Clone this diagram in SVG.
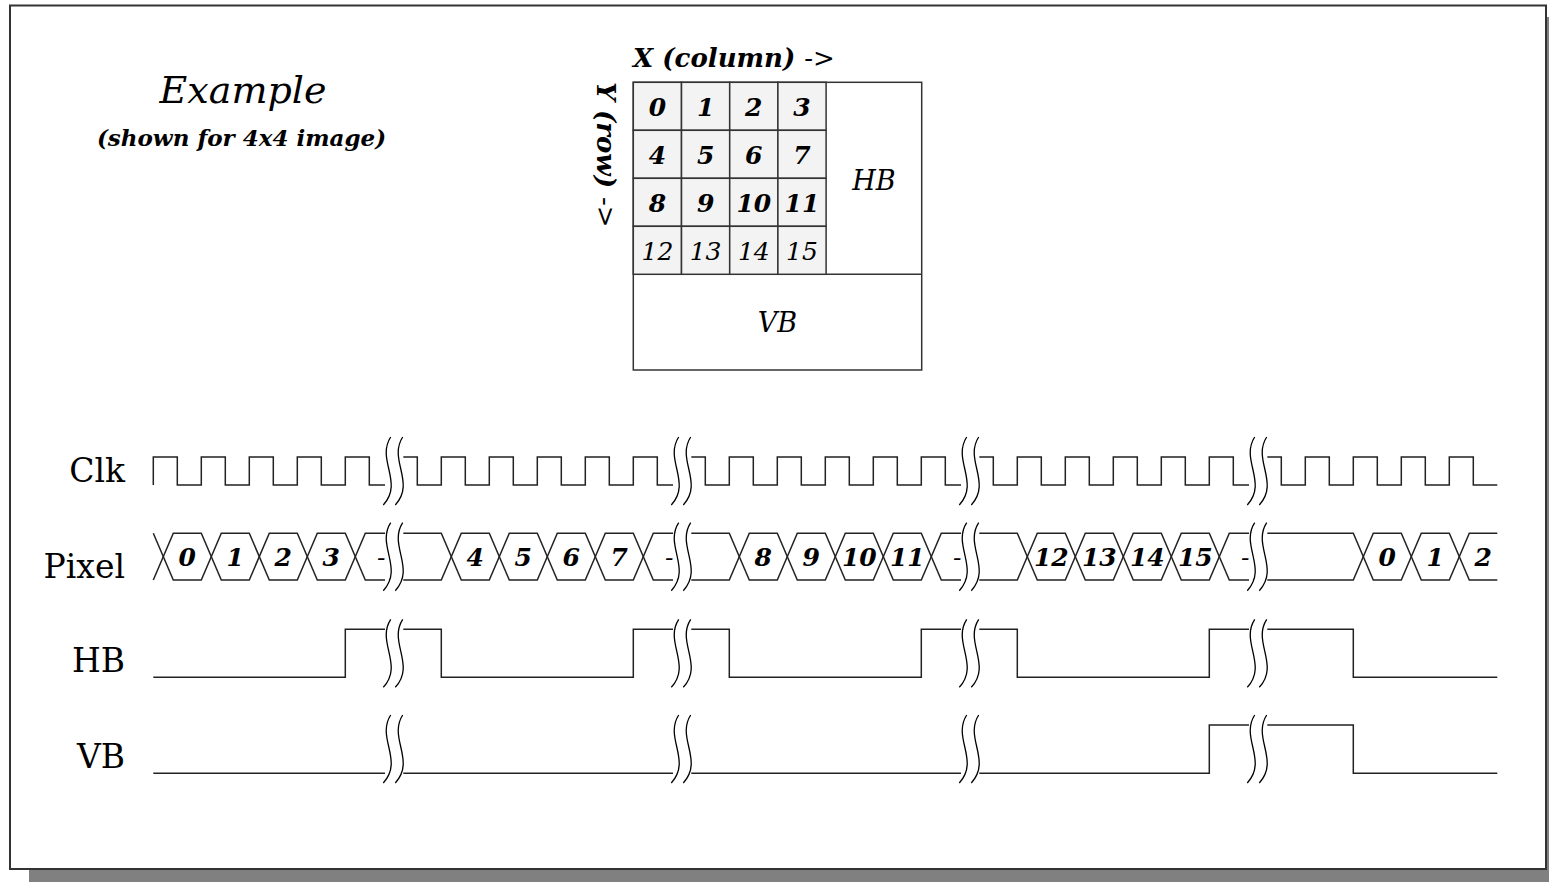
<svg xmlns="http://www.w3.org/2000/svg" width="1549" height="882" viewBox="0 0 1549 882">
<defs>
<style>
.frame{fill:#fff;stroke:#333;stroke-width:2}
.wave{fill:none;stroke:#222;stroke-width:1.5}
.brk{fill:none;stroke:#000;stroke-width:1.3}
.cell{fill:#f3f3f3;stroke:#333;stroke-width:1.5}
.box{fill:#fff;stroke:#333;stroke-width:1.5}
.lbl{font-family:"DejaVu Serif","Liberation Serif",serif;font-size:33px;fill:#000;text-anchor:end}
.num{font-family:"DejaVu Serif","Liberation Serif",serif;font-size:25px;font-style:italic;font-weight:bold;fill:#000;text-anchor:middle}
.numr{font-family:"DejaVu Serif","Liberation Serif",serif;font-size:25px;font-style:italic;fill:#000;text-anchor:middle}
.it{font-family:"DejaVu Serif","Liberation Serif",serif;font-style:italic;fill:#000;text-anchor:middle}
.bi{font-family:"DejaVu Serif","Liberation Serif",serif;font-style:italic;font-weight:bold;fill:#000;text-anchor:middle}
</style>
<path id="b" d="M-2.6,-34 C-17.3,-11.3 10.7,11.3 -10,34 M9.4,-34 C-5.3,-11.3 22.7,11.3 2,34"/>
</defs>
<rect x="29" y="17" width="1520" height="865" fill="#808080"/>
<rect class="frame" x="10" y="5.5" width="1536" height="863.5"/>

<g id="title">
<text class="it" x="243" y="103" font-size="38">Example</text>
<text class="bi" x="241.5" y="146" font-size="23">(shown for 4x4 image)</text>
</g>

<g id="grid">
<text class="bi" x="734" y="67" font-size="26">X (column) <tspan font-weight="normal">-&gt;</tspan></text>
<text class="bi" transform="translate(597,155) rotate(90)" x="0" y="0" font-size="26">Y (row) <tspan font-weight="normal">-&gt;</tspan></text>
<rect class="box" x="633.3" y="82.3" width="288.4" height="287.7"/>
<line class="box" x1="633.3" y1="274.3" x2="921.7" y2="274.3"/>
<g>
<rect class="cell" x="633.3" y="82.3" width="48.2" height="48"/>
<rect class="cell" x="681.5" y="82.3" width="48.2" height="48"/>
<rect class="cell" x="729.7" y="82.3" width="48.2" height="48"/>
<rect class="cell" x="777.9" y="82.3" width="48.2" height="48"/>
<rect class="cell" x="633.3" y="130.3" width="48.2" height="48"/>
<rect class="cell" x="681.5" y="130.3" width="48.2" height="48"/>
<rect class="cell" x="729.7" y="130.3" width="48.2" height="48"/>
<rect class="cell" x="777.9" y="130.3" width="48.2" height="48"/>
<rect class="cell" x="633.3" y="178.3" width="48.2" height="48"/>
<rect class="cell" x="681.5" y="178.3" width="48.2" height="48"/>
<rect class="cell" x="729.7" y="178.3" width="48.2" height="48"/>
<rect class="cell" x="777.9" y="178.3" width="48.2" height="48"/>
<rect class="cell" x="633.3" y="226.3" width="48.2" height="48"/>
<rect class="cell" x="681.5" y="226.3" width="48.2" height="48"/>
<rect class="cell" x="729.7" y="226.3" width="48.2" height="48"/>
<rect class="cell" x="777.9" y="226.3" width="48.2" height="48"/>
</g>
<text class="num" x="657.4" y="116">0</text>
<text class="num" x="705.6" y="116">1</text>
<text class="num" x="753.8" y="116">2</text>
<text class="num" x="802" y="116">3</text>
<text class="num" x="657.4" y="164">4</text>
<text class="num" x="705.6" y="164">5</text>
<text class="num" x="753.8" y="164">6</text>
<text class="num" x="802" y="164">7</text>
<text class="num" x="657.4" y="212">8</text>
<text class="num" x="705.6" y="212">9</text>
<text class="num" x="753.8" y="212">10</text>
<text class="num" x="802" y="212">11</text>
<text class="numr" x="657.4" y="260">12</text>
<text class="numr" x="705.6" y="260">13</text>
<text class="numr" x="753.8" y="260">14</text>
<text class="numr" x="802" y="260">15</text>
<text class="it" x="874" y="190" font-size="27">HB</text>
<text class="it" x="777.5" y="332" font-size="27">VB</text>
</g>

<g id="labels">
<text class="lbl" x="125" y="482">Clk</text>
<text class="lbl" x="125" y="578">Pixel</text>
<text class="lbl" x="125" y="672">HB</text>
<text class="lbl" x="125" y="768">VB</text>
</g>

<g id="connectors">
<g id="clk">
<path class="wave" d="M153.3,485 V457 H177.3 V485 H201.3 V457 H225.3 V485 H249.3 V457 H273.3 V485 H297.3 V457 H321.3 V485 H345.3 V457 H369.3 V485 H385"/>
<path class="wave" d="M403.3,457 H417.3 V485 H441.3 V457 H465.3 V485 H489.3 V457 H513.3 V485 H537.3 V457 H561.3 V485 H585.3 V457 H609.3 V485 H633.3 V457 H657.3 V485 H673"/>
<path class="wave" d="M691.3,457 H705.3 V485 H729.3 V457 H753.3 V485 H777.3 V457 H801.3 V485 H825.3 V457 H849.3 V485 H873.3 V457 H897.3 V485 H921.3 V457 H945.3 V485 H961"/>
<path class="wave" d="M979.3,457 H993.3 V485 H1017.3 V457 H1041.3 V485 H1065.3 V457 H1089.3 V485 H1113.3 V457 H1137.3 V485 H1161.3 V457 H1185.3 V485 H1209.3 V457 H1233.3 V485 H1249"/>
<path class="wave" d="M1267.3,457 H1281.3 V485 H1305.3 V457 H1329.3 V485 H1353.3 V457 H1377.3 V485 H1401.3 V457 H1425.3 V485 H1449.3 V457 H1473.3 V485 H1497.3"/>
</g>
<g id="pixel">
<path class="wave" d="M153.3,533.3 L173.3,580 H201.3 L221.3,533.3 H249.3 L269.3,580 H297.3 L317.3,533.3 H345.3 L365.3,580 H385"/>
<path class="wave" d="M153.3,580 L173.3,533.3 H201.3 L221.3,580 H249.3 L269.3,533.3 H297.3 L317.3,580 H345.3 L365.3,533.3 H385"/>
<path class="wave" d="M403.3,533.3 H441.3 L461.3,580 H489.3 L509.3,533.3 H537.3 L557.3,580 H585.3 L605.3,533.3 H633.3 L653.3,580 H673"/>
<path class="wave" d="M403.3,580 H441.3 L461.3,533.3 H489.3 L509.3,580 H537.3 L557.3,533.3 H585.3 L605.3,580 H633.3 L653.3,533.3 H673"/>
<path class="wave" d="M691.3,533.3 H729.3 L749.3,580 H777.3 L797.3,533.3 H825.3 L845.3,580 H873.3 L893.3,533.3 H921.3 L941.3,580 H961"/>
<path class="wave" d="M691.3,580 H729.3 L749.3,533.3 H777.3 L797.3,580 H825.3 L845.3,533.3 H873.3 L893.3,580 H921.3 L941.3,533.3 H961"/>
<path class="wave" d="M979.3,533.3 H1017.3 L1037.3,580 H1065.3 L1085.3,533.3 H1113.3 L1133.3,580 H1161.3 L1181.3,533.3 H1209.3 L1229.3,580 H1249"/>
<path class="wave" d="M979.3,580 H1017.3 L1037.3,533.3 H1065.3 L1085.3,580 H1113.3 L1133.3,533.3 H1161.3 L1181.3,580 H1209.3 L1229.3,533.3 H1249"/>
<path class="wave" d="M1267.3,533.3 H1353.3 L1373.3,580 H1401.3 L1421.3,533.3 H1449.3 L1469.3,580 H1497.3"/>
<path class="wave" d="M1267.3,580 H1353.3 L1373.3,533.3 H1401.3 L1421.3,580 H1449.3 L1469.3,533.3 H1497.3"/>
<text class="num" x="187.3" y="566">0</text>
<text class="num" x="235.3" y="566">1</text>
<text class="num" x="283.3" y="566">2</text>
<text class="num" x="331.3" y="566">3</text>
<text class="numr" x="381.3" y="566">-</text>
<text class="num" x="475.3" y="566">4</text>
<text class="num" x="523.3" y="566">5</text>
<text class="num" x="571.3" y="566">6</text>
<text class="num" x="619.3" y="566">7</text>
<text class="numr" x="669.3" y="566">-</text>
<text class="num" x="763.3" y="566">8</text>
<text class="num" x="811.3" y="566">9</text>
<text class="num" x="859.3" y="566">10</text>
<text class="num" x="907.3" y="566">11</text>
<text class="numr" x="957.3" y="566">-</text>
<text class="num" x="1051.3" y="566">12</text>
<text class="num" x="1099.3" y="566">13</text>
<text class="num" x="1147.3" y="566">14</text>
<text class="num" x="1195.3" y="566">15</text>
<text class="numr" x="1245.3" y="566">-</text>
<text class="num" x="1387.3" y="566">0</text>
<text class="num" x="1435.3" y="566">1</text>
<text class="num" x="1483.3" y="566">2</text>
</g>
<g id="hb">
<path class="wave" d="M153.3,677.3 H345.3 V629.3 H385"/>
<path class="wave" d="M403.3,629.3 H441.3 V677.3 H633.3 V629.3 H673"/>
<path class="wave" d="M691.3,629.3 H729.3 V677.3 H921.3 V629.3 H961"/>
<path class="wave" d="M979.3,629.3 H1017.3 V677.3 H1209.3 V629.3 H1249"/>
<path class="wave" d="M1267.3,629.3 H1353.3 V677.3 H1497.3"/>
</g>
<g id="vb">
<path class="wave" d="M153.3,773.3 H385"/>
<path class="wave" d="M403.3,773.3 H673"/>
<path class="wave" d="M691.3,773.3 H961"/>
<path class="wave" d="M979.3,773.3 H1209.3 V725 H1249"/>
<path class="wave" d="M1267.3,725 H1353.3 V773.3 H1497.3"/>
</g>
<g id="breaks">
<use class="brk" href="#b" x="393.3" y="471"/>
<use class="brk" href="#b" x="681.3" y="471"/>
<use class="brk" href="#b" x="969.3" y="471"/>
<use class="brk" href="#b" x="1257.3" y="471"/>
<use class="brk" href="#b" x="393.3" y="556.7"/>
<use class="brk" href="#b" x="681.3" y="556.7"/>
<use class="brk" href="#b" x="969.3" y="556.7"/>
<use class="brk" href="#b" x="1257.3" y="556.7"/>
<use class="brk" href="#b" x="393.3" y="653.3"/>
<use class="brk" href="#b" x="681.3" y="653.3"/>
<use class="brk" href="#b" x="969.3" y="653.3"/>
<use class="brk" href="#b" x="1257.3" y="653.3"/>
<use class="brk" href="#b" x="393.3" y="749"/>
<use class="brk" href="#b" x="681.3" y="749"/>
<use class="brk" href="#b" x="969.3" y="749"/>
<use class="brk" href="#b" x="1257.3" y="749"/>
</g>
</g>
</svg>
